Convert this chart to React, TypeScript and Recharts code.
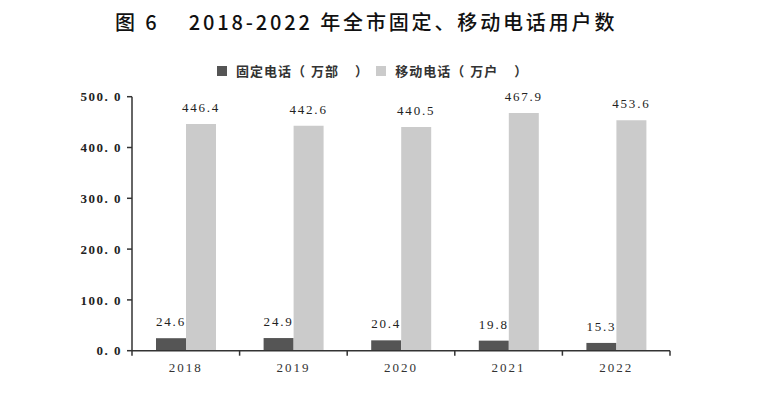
import React from 'react';
import { BarChart, Bar, XAxis, YAxis, LabelList, Legend } from 'recharts';

const years = ['2018', '2019', '2020', '2021', '2022'];
const fixedLine = [24.6, 24.9, 20.4, 19.8, 15.3];
const mobile = [446.4, 442.6, 440.5, 467.9, 453.6];
const yTicks = [0, 100, 200, 300, 400, 500];
const seriesNames = ['固定电话（万部）', '移动电话（万户）'];
const seriesColors = ['#555555', '#cbcbcb'];
const title = '图 6    2018-2022 年全市固定、移动电话用户数';

const data = years.map((y, i) => ({ year: y, fixed: fixedLine[i], mobile: mobile[i] }));

const serif = '"Liberation Serif", "DejaVu Serif", serif';
const cjk = '"Noto Sans CJK SC", "Noto Sans", sans-serif';

const XTick = (props: any) => {
  const { x, y, payload, index } = props;
  const off = payload && typeof payload.offset === 'number' ? payload.offset : 0;
  const last = index === years.length - 1;
  return (
    <g>
      <line x1={x - off} x2={x - off} y1={y - 12} y2={y - 7} stroke="#333" strokeWidth={1.5} />
      {last && <line x1={x + off} x2={x + off} y1={y - 12} y2={y - 7} stroke="#333" strokeWidth={1.5} />}
      <text x={x} y={y} dy="0.71em" textAnchor="middle" fill="#333" fontSize={13} fontFamily={serif} letterSpacing={2}>
        {payload.value}
      </text>
    </g>
  );
};

const renderName = (n: string) =>
  n.split('').map((ch, i) => (
    <span key={i} style={ch === '（' ? { marginRight: 6 } : ch === '）' ? { marginLeft: 16 } : { marginRight: 1 }}>
      {ch}
    </span>
  ));

const LegendContent = () => (
  <div style={{ display: 'flex', alignItems: 'center', fontFamily: cjk, fontSize: 13, color: '#333', fontWeight: 700, whiteSpace: 'nowrap', lineHeight: '20px' }}>
    {seriesNames.map((n, i) => (
      <div key={n} style={{ display: 'flex', alignItems: 'center', marginRight: 8 }}>
        <span style={{ display: 'inline-block', width: 10, height: 10, background: seriesColors[i], marginRight: 9 }} />
        <span>{renderName(n)}</span>
      </div>
    ))}
  </div>
);

export default function App() {
  return (
    <div style={{ position: 'absolute', left: 0, top: 0, width: 768, height: 395, background: '#fff' }}>
      <div
        style={{
          position: 'absolute',
          left: 115,
          top: 9,
          fontFamily: cjk,
          fontSize: 20,
          lineHeight: '26px',
          fontWeight: 500,
          letterSpacing: 2.85,
          color: '#111',
          whiteSpace: 'pre',
        }}
      >
        {title}
      </div>
      <BarChart
        width={768}
        height={395}
        data={data}
        margin={{ top: 96.7, right: 98, bottom: 14.3, left: 0 }}
        barGap={0}
        barSize={30}
      >
        <XAxis
          dataKey="year"
          height={30}
          tickLine={false}
          tickSize={5}
          tickMargin={7}
          axisLine={{ stroke: '#333', strokeWidth: 1.5 }}
          tick={<XTick />}
          interval={0}
        />
        <YAxis
          width={132}
          domain={[0, 500]}
          ticks={yTicks}
          tickSize={5}
          tickMargin={5}
          axisLine={{ stroke: '#333', strokeWidth: 1.5 }}
          tickLine={{ stroke: '#333', strokeWidth: 1.5 }}
          tickFormatter={(v: number) => v.toFixed(1).replace('.', '. ')}
          tick={{ fill: '#222', fontSize: 13, fontFamily: serif, fontWeight: 'bold', letterSpacing: 1.5 }}
        />
        <Legend
          verticalAlign="middle"
          align="center"
          layout="horizontal"
          content={<LegendContent />}
          wrapperStyle={{ top: 61, left: 217, width: 'auto', height: 20 }}
        />
        <Bar dataKey="fixed" name={seriesNames[0]} fill={seriesColors[0]} isAnimationActive={false}>
          <LabelList dataKey="fixed" position="top" offset={12} fill="#222" fontSize={13} fontFamily={serif} letterSpacing={1.8} formatter={(v: number) => v.toFixed(1)} />
        </Bar>
        <Bar dataKey="mobile" name={seriesNames[1]} fill={seriesColors[1]} isAnimationActive={false}>
          <LabelList dataKey="mobile" position="top" offset={12} fill="#222" fontSize={13} fontFamily={serif} letterSpacing={1.8} formatter={(v: number) => v.toFixed(1)} />
        </Bar>
      </BarChart>
    </div>
  );
}
